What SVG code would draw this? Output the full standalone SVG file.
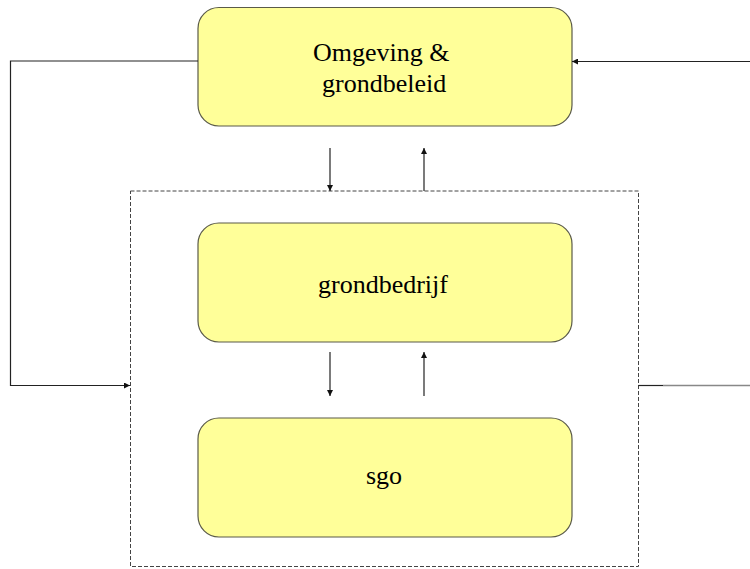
<svg xmlns="http://www.w3.org/2000/svg" width="750" height="569" viewBox="0 0 750 569">
<style>
.node{fill:#ffff99;stroke:#5a5a48;stroke-width:1.2}
.lbl{font-size:26px;fill:#000}
.ln{fill:none;stroke:#222;stroke-width:1.2}
.dash{fill:none;stroke:#444;stroke-width:1;stroke-dasharray:4 2}
</style>
<defs>
<marker id="ah" viewBox="0 0 10 10" refX="10" refY="5" markerWidth="7" markerHeight="6" markerUnits="userSpaceOnUse" orient="auto">
<path d="M0,0 L10,5 L0,10 z" fill="#111"/>
</marker>
</defs>
<rect width="750" height="569" fill="#fff"/>
<g id="container">
<rect class="dash" x="130.5" y="191" width="508" height="375.5"/>
</g>
<g id="node-omgeving" font-family="'Liberation Serif', 'DejaVu Serif', serif">
<rect class="node" x="198" y="7.5" width="374" height="118.5" rx="21"/>
<text class="lbl" x="313" y="61">Omgeving &amp;</text>
<text class="lbl" x="322" y="92">grondbeleid</text>
</g>
<g id="node-grondbedrijf" font-family="'Liberation Serif', 'DejaVu Serif', serif">
<rect class="node" x="198" y="223" width="374" height="119" rx="21"/>
<text class="lbl" x="318" y="293">grondbedrijf</text>
</g>
<g id="node-sgo" font-family="'Liberation Serif', 'DejaVu Serif', serif">
<rect class="node" x="198" y="418" width="374" height="119" rx="21"/>
<text class="lbl" x="366" y="484">sgo</text>
</g>
<g id="connectors">
<path class="ln" d="M330,148 V191" marker-end="url(#ah)"/>
<path class="ln" d="M424,191 V148" marker-end="url(#ah)"/>
<path class="ln" d="M330,352 V396" marker-end="url(#ah)"/>
<path class="ln" d="M424,396 V352" marker-end="url(#ah)"/>
<path class="ln" d="M198,61 H10.5 V385.5 H130" marker-end="url(#ah)"/>
<path class="ln" d="M750,61.5 H572" marker-end="url(#ah)"/>
<path class="ln" d="M638.5,385.5 H663"/>
<path fill="none" stroke="#888" stroke-width="1.5" d="M663,385.5 H750"/>
</g>
</svg>
